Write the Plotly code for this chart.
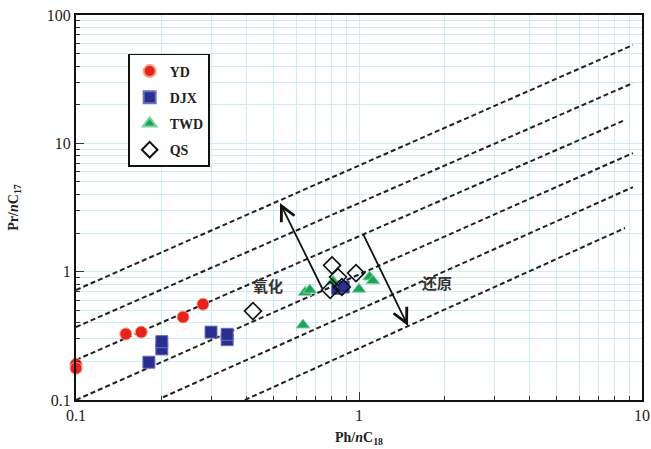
import numpy as np
import plotly.graph_objects as go

# ---- data ----
yd_x = [0.1, 0.1, 0.150, 0.170, 0.239, 0.281]
yd_y = [0.190, 0.177, 0.327, 0.338, 0.443, 0.558]

djx_x = [0.181, 0.201, 0.201, 0.300, 0.342, 0.342, 0.84, 0.88]
djx_y = [0.197, 0.250, 0.285, 0.338, 0.295, 0.325, 0.74, 0.76]

twd_x = [0.634, 0.645, 0.670, 0.81, 1.00, 1.09, 1.12]
twd_y = [0.384, 0.690, 0.720, 0.84, 0.73, 0.91, 0.85]

qs_x = [0.422, 0.803, 0.843, 0.791, 0.870, 0.976]
qs_y = [0.493, 1.12, 0.908, 0.720, 0.760, 0.975]

# reference (dashed) lines: start and end points
line_x0 = [0.1, 0.1, 0.1, 0.1, 0.203, 0.395]
line_y0 = [0.72, 0.37, 0.205, 0.10, 0.105, 0.10]
line_x1 = [9.29, 9.29, 8.71, 9.29, 9.29, 8.71]
line_y1 = [58.3, 29.5, 15.2, 8.4, 4.56, 2.19]

# arrows (tail -> head)
arr_ox = dict(tail=(0.746, 0.72), head=(0.526, 3.43), label="氧化", lab=(0.477, 0.787))
arr_re = dict(tail=(1.03, 2.0), head=(1.49, 0.377), label="还原", lab=(1.89, 0.83))

x_ticks = [0.1, 1, 10]
y_ticks = [0.1, 1, 10, 100]

SERIF = "Liberation Serif"
GRID = "#d2ebf2"

fig = go.Figure()

for x0, y0, x1, y1 in zip(line_x0, line_y0, line_x1, line_y1):
    fig.add_trace(go.Scatter(x=[x0, x1], y=[y0, y1], mode="lines",
                             line=dict(color="#222", width=2, dash="5px,3px"),
                             showlegend=False, hoverinfo="skip"))

fig.add_trace(go.Scatter(x=yd_x, y=yd_y, mode="markers", name="YD", legendgroup="a",
                         marker=dict(symbol="circle", size=12, color="#e8231f",
                                     line=dict(color="#f6a07a", width=1)),
                         cliponaxis=False))
fig.add_trace(go.Scatter(x=djx_x, y=djx_y, mode="markers", name="DJX", legendgroup="b",
                         marker=dict(symbol="square", size=12, color="#2a2e8e",
                                     line=dict(color="#6a6fc0", width=1)),
                         cliponaxis=False))
fig.add_trace(go.Scatter(x=twd_x, y=twd_y, mode="markers", name="TWD", legendgroup="c",
                         marker=dict(symbol="triangle-up", size=12, color="#1ba459",
                                     line=dict(color="#7fd3a0", width=1)),
                         cliponaxis=False))
fig.add_trace(go.Scatter(x=qs_x, y=qs_y, mode="markers", name="QS", legendgroup="d",
                         marker=dict(symbol="diamond-open", size=13, color="#111",
                                     line=dict(color="#111", width=1.6)),
                         cliponaxis=False))

for a in (arr_ox, arr_re):
    fig.add_annotation(x=np.log10(a["head"][0]), y=np.log10(a["head"][1]),
                       ax=np.log10(a["tail"][0]), ay=np.log10(a["tail"][1]),
                       xref="x", yref="y", axref="x", ayref="y",
                       showarrow=True, arrowhead=5, arrowsize=1.6, arrowwidth=1.8,
                       arrowcolor="#111", text="")
    fig.add_annotation(x=np.log10(a["lab"][0]), y=np.log10(a["lab"][1]),
                       xref="x", yref="y", text=a["label"], showarrow=False,
                       font=dict(family="Noto Sans CJK SC", size=15, color="#333", weight="bold"))

minor_x = [m * 10.0 ** e for e in (-1, 0) for m in range(2, 10)]
minor_y = [m * 10.0 ** e for e in (-1, 0, 1) for m in range(2, 10)]

axis_common = dict(type="log", showline=True, linecolor="#111", linewidth=2, mirror=True,
                   ticks="inside", ticklen=8, tickwidth=1.2, tickcolor="#333",
                   showgrid=True, gridcolor=GRID, gridwidth=1, zeroline=False,
                   automargin=False,
                   tickfont=dict(family=SERIF, size=16, color="#222"))

fig.update_xaxes(range=[-1, 1], tickvals=x_ticks, ticktext=["0.1", "1", "10"],
                 minor=dict(tickvals=minor_x, ticks="inside", ticklen=4, tickcolor="#333",
                            showgrid=True, gridcolor=GRID, gridwidth=1),
                 title=dict(text="Ph/<i>n</i>C<sub>18</sub>", standoff=9,
                            font=dict(family=SERIF, size=14, color="#222", weight="bold")),
                 **axis_common)
fig.update_yaxes(range=[-1, 2], tickvals=y_ticks, ticktext=["0.1", "1", "10", "100"],
                 minor=dict(tickvals=minor_y, ticks="inside", ticklen=4, tickcolor="#333",
                            showgrid=True, gridcolor=GRID, gridwidth=1),
                 title=dict(text="Pr/<i>n</i>C<sub>17</sub>", standoff=25,
                            font=dict(family=SERIF, size=14, color="#222", weight="bold")),
                 **axis_common)

fig.update_layout(
    width=651, height=449,
    margin=dict(l=76, r=9, t=15, b=49),
    paper_bgcolor="white", plot_bgcolor="white",
    showlegend=True,
    legend=dict(x=0.092, y=0.899, xanchor="left", yanchor="top",
                bgcolor="white", bordercolor="#111", borderwidth=1.6,
                font=dict(family=SERIF, size=14, color="#222", weight="bold"),
                tracegroupgap=5, itemsizing="constant",
                entrywidth=60, entrywidthmode="pixels"),
)

fig.write_html("out.html", config={"displayModeBar": False},
               post_script="document.body.style.margin='0';")
